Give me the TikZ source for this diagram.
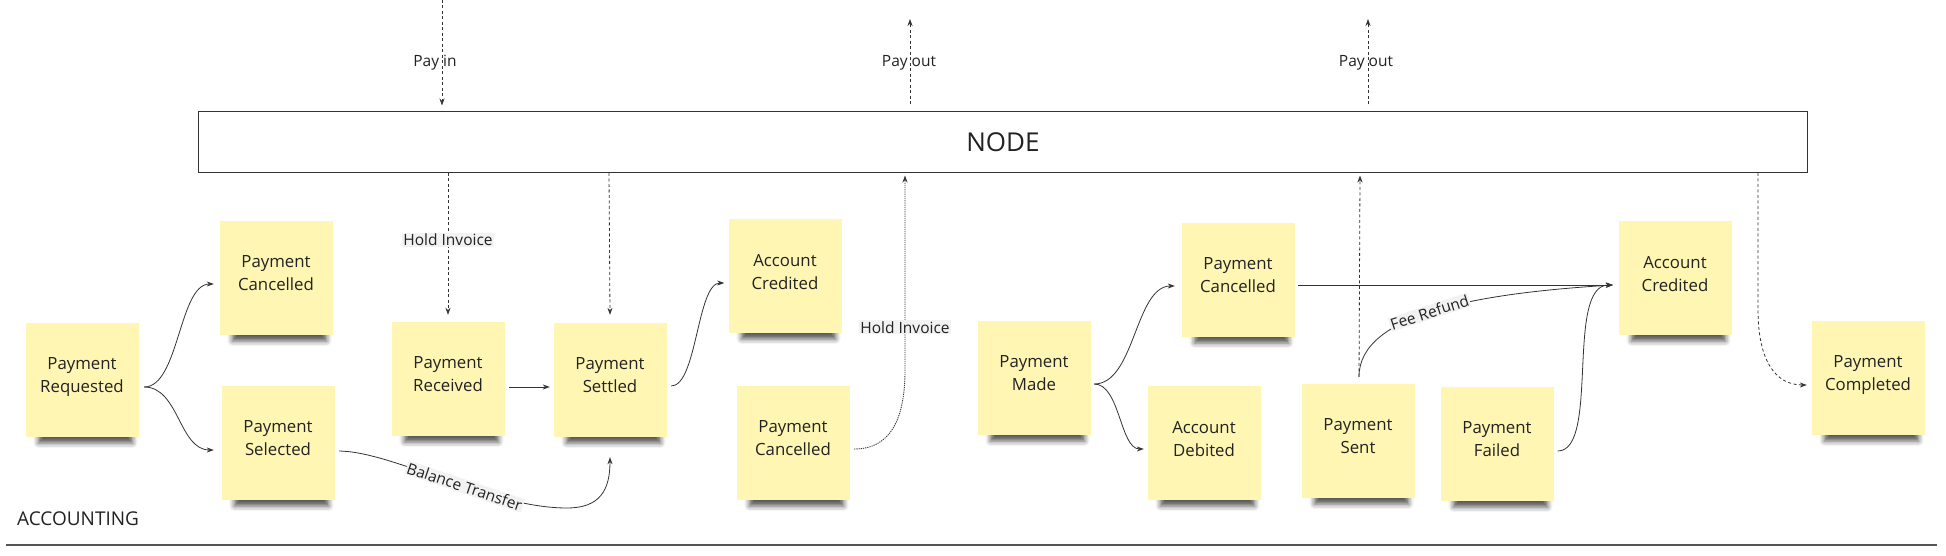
\documentclass[tikz,border=0pt]{standalone}
\usepackage{fontspec}
\setmainfont{Open Sans}
\usetikzlibrary{arrows.meta,shadows.blur}
\definecolor{bg}{HTML}{F2F2F2}
\definecolor{gridc}{HTML}{E4E4E4}
\definecolor{stickyc}{HTML}{FFF6B3}
\definecolor{inkc}{HTML}{222222}
\definecolor{linec}{HTML}{333333}
\definecolor{rulec}{HTML}{555555}
\pgfdeclarelayer{gridlayer}
\pgfdeclarelayer{shadowlayer}
\pgfsetlayers{gridlayer,shadowlayer,main}
\tikzset{
  sticky/.style={rectangle, fill=stickyc, minimum width=113pt, minimum height=114pt, inner sep=0pt,
    align=center, text=inkc, text depth=9pt, font=\fontsize{16.8}{23}\selectfont},
  stickyshadow/.style={blur shadow={shadow xshift=0pt, shadow yshift=0pt, shadow blur radius=5pt, shadow opacity=65}},
  conn/.style={draw=linec, line width=0.8pt, -{Stealth[length=7pt,width=5pt]}},
  dashconn/.style={conn, dash pattern=on 3pt off 2.5pt},
  dotconn/.style={conn, line width=0.9pt, dash pattern=on 1.2pt off 1pt},
  lbl/.style={text=inkc, font=\fontsize{15.5}{18}\selectfont, inner sep=1pt},
  lblbg/.style={lbl, fill=bg},
  gridline/.style={draw=gridc, line width=2pt},
  bigbox/.style={draw=linec, line width=1pt, minimum width=1609pt, minimum height=61pt, inner sep=0pt,
    font=\fontsize{26}{30}\selectfont, text=inkc},
}
\begin{document}
\begin{tikzpicture}[x=1pt,y=-1pt]
\useasboundingbox (0,0) rectangle (1946,556);
\begin{pgfonlayer}{gridlayer}
  \fill[bg] (0,0) rectangle (1946,556);
  \foreach \gx in {5,288,571,854,1137,1420,1702} \draw[gridline] (\gx,0) -- (\gx,556);
  \foreach \gy in {71,353} \draw[gridline] (0,\gy) -- (1946,\gy);
\end{pgfonlayer}

% main box
\node[bigbox] (NODE) at (1003,142) {NODE};

% stickies
\node[sticky] (PR)    at (82,380)   {Payment\\Requested};
\node[sticky] (PC1)   at (276,278)  {Payment\\Cancelled};
\node[sticky] (PSel)  at (278,443)  {Payment\\Selected};
\node[sticky] (PRec)  at (448,379)  {Payment\\Received};
\node[sticky] (PSet)  at (610,380)  {Payment\\Settled};
\node[sticky] (AC1)   at (785,276)  {Account\\Credited};
\node[sticky] (PC2)   at (793,443)  {Payment\\Cancelled};
\node[sticky] (PM)    at (1034,378) {Payment\\Made};
\node[sticky] (PC3)   at (1238,280) {Payment\\Cancelled};
\node[sticky] (AD)    at (1204,443) {Account\\Debited};
\node[sticky] (PSent) at (1358,441) {Payment\\Sent};
\node[sticky] (PF)    at (1497,444) {Payment\\Failed};
\node[sticky] (AC2)   at (1675,278) {Account\\Credited};
\node[sticky] (PComp) at (1868,378) {Payment\\Completed};

\begin{pgfonlayer}{shadowlayer}
  \coordinate (dummyA) at (-300,-300);
  \coordinate (dummyB) at (-250,-250);
  \path[stickyshadow] (dummyA) rectangle (dummyB);
  \foreach \s in {PR,PC1,PSel,PRec,PSet,AC1,PC2,PM,PC3,AD,PSent,PF,AC2,PComp}
    \path[stickyshadow] ([xshift=13pt,yshift=14pt]\s.south west) rectangle ([xshift=-6pt,yshift=-6pt]\s.south east);
\end{pgfonlayer}

% lane label and rule
\node[anchor=west, inner sep=0pt, font=\fontsize{19}{22}\selectfont, text=inkc] (acc) at (17,519) {ACCOUNTING};
\coordinate (ruleL) at (6,545);
\coordinate (ruleR) at (1937,545);
\draw[draw=rulec, line width=1.5pt] (ruleL) -- (ruleR);

% external flows
\coordinate (pinTop) at (442,0);
\coordinate (pout1) at (910,19);
\coordinate (pout2) at (1368,19);
\draw[dashconn] (pinTop) -- node[lbl, pos=0.594, xshift=-7pt] {Pay in} ([xshift=-561pt,yshift=5.5pt]NODE.north);
\draw[dashconn] ([xshift=-93pt,yshift=6.5pt]NODE.north) -- node[lbl, pos=0.49, xshift=-1pt] {Pay out} (pout1);
\draw[dashconn] ([xshift=365pt,yshift=6.5pt]NODE.north) -- node[lbl, pos=0.49, xshift=-2pt] {Pay out} (pout2);

% node to stickies
\draw[dashconn] ([xshift=-555pt]NODE.south) -- node[lblbg, pos=0.47] {Hold Invoice} ([yshift=7pt]PRec.north);
\draw[dashconn] ([xshift=-394pt]NODE.south) -- ([yshift=8pt]PSet.north);

% requested branches
\draw[conn] ([xshift=5.5pt,yshift=-7pt]PR.east) .. controls (179,387) and (179,284) .. ([xshift=-5.5pt,yshift=-6pt]PC1.west);
\draw[conn] ([xshift=5.5pt,yshift=-7pt]PR.east) .. controls (179,387) and (179,450) .. ([xshift=-7.5pt,yshift=-7pt]PSel.west);

% received -> settled
\draw[conn] ([xshift=4.5pt,yshift=-8pt]PRec.east) -- ([xshift=-3.5pt,yshift=-7pt]PSet.west);

% settled -> credited
\draw[conn] ([xshift=4.5pt,yshift=-6pt]PSet.east) .. controls (697,386) and (697,283) .. ([xshift=-4pt,yshift=-7pt]AC1.west);

% balance transfer
\coordinate (bt) at (567,508);
\draw[conn] ([xshift=4.5pt,yshift=-8pt]PSel.east) .. controls (395,452) and (490,508) .. (bt)
  node[lblbg, sloped, pos=0.58] {Balance Transfer}
  .. controls (600,508) and (610,490) .. ([yshift=-20pt]PSet.south);

% cancelled -> node (hold invoice)
\coordinate (hiA) at (905,370);
\draw[dotconn] ([xshift=4.5pt,yshift=-6pt]PC2.east) .. controls (890,449) and (905,420) .. (hiA)
  -- node[lblbg, pos=0.22] {Hold Invoice} ([xshift=-98pt,yshift=-2.5pt]NODE.south);

% made branches
\draw[conn] ([xshift=3.5pt,yshift=-6pt]PM.east) .. controls (1135,384) and (1135,286) .. ([xshift=-6.5pt,yshift=-6pt]PC3.west);
\draw[conn] ([xshift=3.5pt,yshift=-6pt]PM.east) .. controls (1120,384) and (1120,449) .. ([xshift=-3.5pt,yshift=-6pt]AD.west);

% to account credited 2
\draw[conn] ([xshift=3.5pt,yshift=-5pt]PC3.east) -- ([xshift=-5.5pt,yshift=-7pt]AC2.west);
\draw[dashconn] ([xshift=1pt,yshift=7pt]PSent.north) -- ([xshift=357pt,yshift=-2.5pt]NODE.south);
\draw[conn] ([xshift=1pt,yshift=7pt]PSent.north) .. controls (1359,312) and (1485,293) ..
  ([xshift=-5.5pt,yshift=-7pt]AC2.west) node[lblbg, sloped, pos=0.47] {Fee Refund};
\draw[conn] ([xshift=4pt,yshift=-7pt]PF.east) .. controls (1600,451) and (1565,285) .. ([xshift=-5.5pt,yshift=-7pt]AC2.west);

% node -> completed
\coordinate (pcA) at (1758,310);
\draw[dashconn] ([xshift=755pt]NODE.south) -- (pcA) .. controls (1758,360) and (1775,385) .. ([xshift=-4.5pt,yshift=-7pt]PComp.west);
\end{tikzpicture}
\end{document}
